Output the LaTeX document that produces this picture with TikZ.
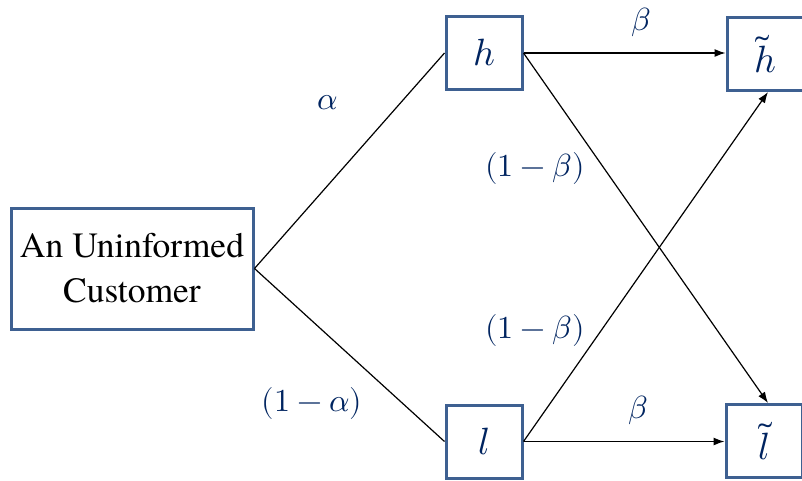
\documentclass[tikz,border=0pt]{standalone}
\usepackage{fontspec}
\usepackage{unicode-math}
\setmainfont{Liberation Serif}
\newfontfamily\custfont{texgyretermes-regular.otf}
\setmathfont{Latin Modern Math}
\usetikzlibrary{arrows.meta}
\definecolor{boxblue}{RGB}{62,96,145}
\definecolor{lblue}{RGB}{0,36,96}
\begin{document}
\begin{tikzpicture}[x=1pt,y=-1pt,
  box/.style={draw=boxblue,line width=3pt,fill=white,minimum width=76pt,minimum height=73pt,inner sep=0pt,text=lblue,font=\fontsize{38}{42}\selectfont},
  lab/.style={text=lblue,font=\fontsize{32}{36}\selectfont,inner sep=0pt},
  conn/.style={line width=1.2pt,black},
  arr/.style={conn,-{Latex[length=11pt,width=8pt]}}]
\useasboundingbox (0,0) rectangle (802,480);
\node[draw=boxblue,line width=3pt,minimum width=242pt,minimum height=121pt,inner sep=0pt,align=center,font=\custfont\fontsize{35.5}{45}\selectfont] (cust) at (132,268.5) {An Uninformed\\Customer};
\node[box] (h) at (484,53) {$h$};
\node[box] (l) at (484,441.5) {$l$};
\node[box] (ht) at (765,54) {$\tilde{h}$};
\node[box] (lt) at (764,441) {$\tilde{l}$};
\draw[conn] (cust.east) -- (h.west);
\draw[conn] (cust.east) -- (l.west);
\draw[arr] (h.east) -- (h.east -| ht.west);
\draw[arr] (l.east) -- (l.east -| lt.west);
\draw[arr] (h.east) -- ([xshift=4pt]lt.north);
\draw[arr] (l.east) -- ([xshift=3pt]ht.south);
\node[lab] (a) at (328,103) {$\alpha$};
\node[lab] (b1) at (535,168) {$(1-\beta)$};
\node[lab] (b2) at (535,330) {$(1-\beta)$};
\node[lab] (a2) at (312,403) {$(1-\alpha)$};
\node[lab] (b3) at (641,22) {$\beta$};
\node[lab] (b4) at (638,410) {$\beta$};
\end{tikzpicture}
\end{document}
